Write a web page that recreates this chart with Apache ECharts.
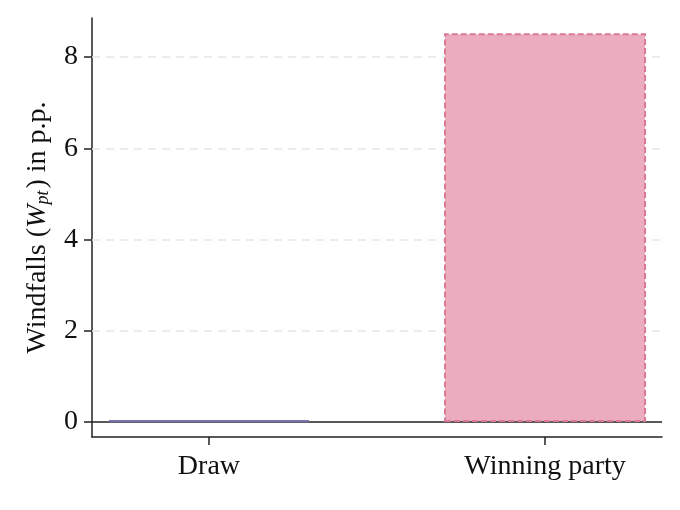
<!DOCTYPE html>
<html lang="en">
<head>
    <meta charset="UTF-8">
    <title>Windfalls</title>
    <style>
        body { margin: 0; overflow: hidden; background: #fff; }
        #chart { width: 680px; height: 510px; }
    </style>
</head>
<body>
    <div id="chart"></div>
    <script src="https://cdn.jsdelivr.net/npm/echarts@6/dist/echarts.min.js"></script>
    <script>
        // data
        var categories = ['Draw', 'Winning party'];
        var windfalls = [0.04, 8.52];
        var yTicks = [0, 2, 4, 6, 8];

        var font = 'Liberation Serif';
        var chart = echarts.init(document.getElementById('chart'));

        var barStyles = [
            { color: '#7474aa', borderColor: '#7474aa', borderWidth: 2.2 },
            { color: '#ebadbe', borderColor: '#db7896', borderWidth: 2, borderType: [6, 3] }
        ];

        var barData = windfalls.map(function (v, i) {
            return { value: [i, v], itemStyle: barStyles[i] };
        });

        var option = {
            animation: false,
            grid: { left: 92, right: 18, top: 18, bottom: 73 },
            xAxis: {
                type: 'value',
                min: -0.348,
                max: 1.348,
                splitLine: { show: false },
                axisLine: { show: true, onZero: false, lineStyle: { color: '#222', width: 1.5 } },
                axisTick: { show: true, customValues: [0, 1], length: 8, lineStyle: { color: '#222', width: 1.5 } },
                axisLabel: {
                    customValues: [0, 1],
                    margin: 16,
                    color: '#111',
                    fontFamily: font,
                    fontSize: 28,
                    formatter: function (v) { return categories[Math.round(v)]; }
                }
            },
            yAxis: {
                type: 'value',
                min: -0.329,
                max: 8.855,
                name: '{n|Windfalls (}{i|W}{s|pt}{n|) in p.p.}',
                nameLocation: 'middle',
                nameGap: 40,
                nameTextStyle: {
                    rich: {
                        n: { fontFamily: font, fontSize: 28, color: '#111' },
                        i: { fontFamily: font, fontSize: 28, fontStyle: 'italic', color: '#111' },
                        s: { fontFamily: font, fontSize: 18, fontStyle: 'italic', color: '#111', verticalAlign: 'bottom', padding: [10, 2, 0, 0] }
                    }
                },
                splitLine: { show: false },
                axisLine: { show: true, onZero: false, lineStyle: { color: '#222', width: 1.5 } },
                axisTick: { show: true, customValues: yTicks, length: 8, lineStyle: { color: '#222', width: 1.5 } },
                axisLabel: {
                    customValues: yTicks,
                    margin: 14,
                    color: '#111',
                    fontFamily: font,
                    fontSize: 28
                }
            },
            series: [{
                type: 'bar',
                barWidth: 202,
                data: barData,
                z: 3,
                markLine: {
                    silent: true,
                    symbol: 'none',
                    label: { show: false },
                    z: 1,
                    data: yTicks.map(function (t) {
                        return t === 0
                            ? { yAxis: t, lineStyle: { color: '#222', width: 1.5, type: 'solid' } }
                            : { yAxis: t, lineStyle: { color: '#e6e6e6', width: 1.5, type: [8, 6] } };
                    })
                }
            }]
        };

        chart.setOption(option);
    </script>
</body>
</html>
